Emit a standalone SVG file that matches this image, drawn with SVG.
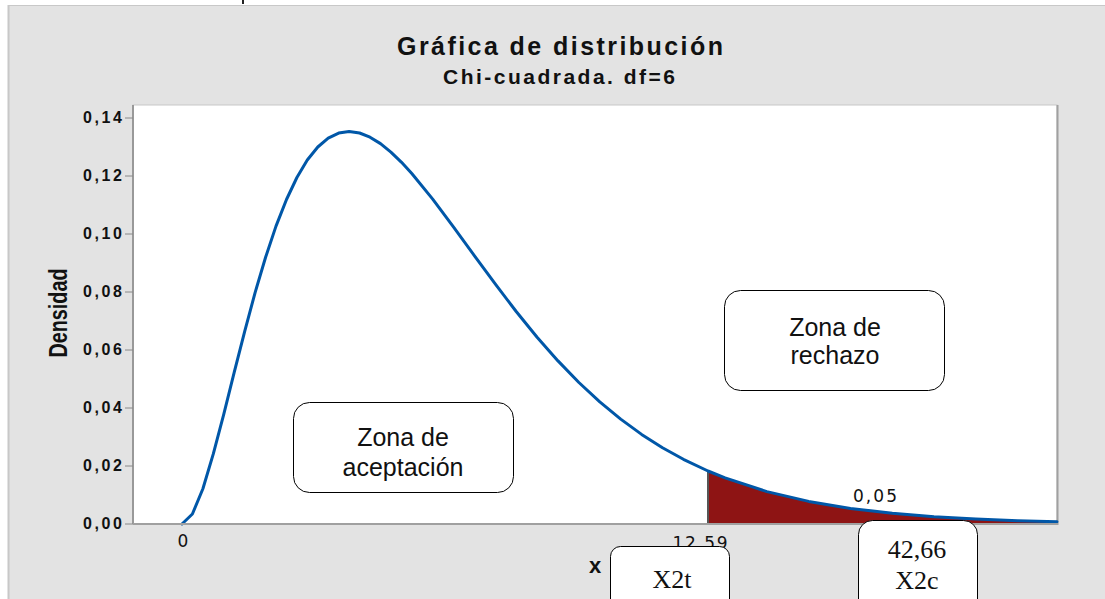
<svg xmlns="http://www.w3.org/2000/svg" width="1105" height="599" viewBox="0 0 1105 599">
<style>
.tick{font-family:"Liberation Sans",Arial,sans-serif;font-weight:bold;font-size:16px;fill:#111}
.num{font-family:"DejaVu Sans",Verdana,sans-serif;font-size:17px;fill:#111}
.box{fill:#fff;stroke:#000;stroke-width:1}
.zt{font-family:"Liberation Sans",Arial,sans-serif;font-size:25px;fill:#111;text-anchor:middle}
.st{font-family:"Liberation Serif","Times New Roman",serif;font-size:26px;fill:#111;text-anchor:middle}
.tk{stroke:#888;stroke-width:1}
</style>
<rect x="0" y="0" width="1105" height="599" fill="#fff"/>
<rect x="242" y="0" width="2" height="4" fill="#222"/>
<g id="panel">
<rect x="8" y="5" width="1097" height="594" fill="#E3E3E3"/>
<line x1="8.5" y1="5" x2="8.5" y2="599" stroke="#C8C8C8" stroke-width="2"/>
<line x1="8" y1="5.5" x2="1105" y2="5.5" stroke="#C8C8C8" stroke-width="1"/>
</g>
<g id="title">
<text x="560" y="55" text-anchor="middle" font-family="Liberation Sans,Arial,sans-serif" font-weight="bold" font-size="25" textLength="326" lengthAdjust="spacing" fill="#111">Gráfica de distribución</text>
<text x="559" y="84" text-anchor="middle" font-family="Liberation Sans,Arial,sans-serif" font-weight="bold" font-size="21" textLength="232" lengthAdjust="spacing" fill="#111">Chi-cuadrada. df=6</text>
</g>
<g id="plot">
<rect x="133" y="105" width="924" height="419" fill="#fff" stroke="#C8C8C8" stroke-width="1"/>
<line x1="133" y1="105" x2="133" y2="524" stroke="#999" stroke-width="2"/>
<line x1="1057.5" y1="105" x2="1057.5" y2="525" stroke="#A0A0A0" stroke-width="2"/>
<path d="M708,524 L708,471 L725.1,477.9 L766.9,491.6 L808.7,501.4 L850.5,508.4 L892.3,513.3 L934,516.8 L975.8,519.1 L1017.6,520.7 L1057,521.8 L1057,524 Z" fill="#8E1414"/>
<line x1="708" y1="471" x2="708" y2="524" stroke="#555" stroke-width="2"/>
<polyline fill="none" stroke="#0057A8" stroke-width="3" stroke-linejoin="round" stroke-linecap="round" points="182,524 192.4,514 202.9,488.7 213.3,453.9 223.8,414.1 234.2,372.4 244.7,331.4 255.1,292.6 265.6,257.3 276,226.1 286.5,199.5 296.9,177.5 307.3,160 317.8,147 328.2,138.2 338.7,133.1 349.1,131.5 359.6,133 370,137.2 380.5,143.6 390.9,152.1 401.3,162.1 411.8,173.5 432.7,199.1 453.6,227.1 474.5,255.8 495.4,284.2 516.2,311.5 537.1,337.2 558,360.9 578.9,382.5 599.8,401.9 620.7,419.1 641.6,434.4 662.5,447.7 683.4,459.3 708,471 725.1,477.9 766.9,491.6 808.7,501.4 850.5,508.4 892.3,513.3 934,516.8 975.8,519.1 1017.6,520.7 1057,521.8"/>
<line x1="133" y1="524" x2="1058" y2="524" stroke="#A0A0A0" stroke-width="2"/>
</g>
<g id="yaxis">
<line class="tk" x1="125" y1="118" x2="133" y2="118"/>
<line class="tk" x1="125" y1="176" x2="133" y2="176"/>
<line class="tk" x1="125" y1="234" x2="133" y2="234"/>
<line class="tk" x1="125" y1="292" x2="133" y2="292"/>
<line class="tk" x1="125" y1="350" x2="133" y2="350"/>
<line class="tk" x1="125" y1="408" x2="133" y2="408"/>
<line class="tk" x1="125" y1="466" x2="133" y2="466"/>
<line class="tk" x1="125" y1="524" x2="133" y2="524"/>
<text class="tick" x="83" y="123" textLength="39" lengthAdjust="spacing">0,14</text>
<text class="tick" x="83" y="181" textLength="39" lengthAdjust="spacing">0,12</text>
<text class="tick" x="83" y="239" textLength="39" lengthAdjust="spacing">0,10</text>
<text class="tick" x="83" y="297" textLength="39" lengthAdjust="spacing">0,08</text>
<text class="tick" x="83" y="355" textLength="39" lengthAdjust="spacing">0,06</text>
<text class="tick" x="83" y="413" textLength="39" lengthAdjust="spacing">0,04</text>
<text class="tick" x="83" y="471" textLength="39" lengthAdjust="spacing">0,02</text>
<text class="tick" x="83" y="529" textLength="39" lengthAdjust="spacing">0,00</text>
<text transform="translate(67,313) rotate(-90)" text-anchor="middle" font-family="Liberation Sans,Arial,sans-serif" font-weight="bold" font-size="26" textLength="89" lengthAdjust="spacingAndGlyphs" fill="#111">Densidad</text>
</g>
<g id="xaxis">
<text class="num" x="183" y="547" text-anchor="middle" font-size="18">0</text>
<text class="num" x="700" y="549" text-anchor="middle" textLength="55" lengthAdjust="spacing">12,59</text>
<text class="num" x="875" y="502" text-anchor="middle" textLength="44" lengthAdjust="spacing">0,05</text>
<text x="595" y="573" text-anchor="middle" font-family="Liberation Sans,Arial,sans-serif" font-weight="bold" font-size="22" fill="#111">x</text>
</g>
<g id="zona-aceptacion">
<rect class="box" x="293.5" y="402.5" width="220" height="90" rx="16"/>
<text class="zt" x="403" y="446">Zona de</text>
<text class="zt" x="403" y="476">aceptación</text>
</g>
<g id="zona-rechazo">
<rect class="box" x="724.5" y="290.5" width="220" height="100" rx="16"/>
<text class="zt" x="835" y="336">Zona de</text>
<text class="zt" x="835" y="364">rechazo</text>
</g>
<g id="x2t">
<rect class="box" x="610.5" y="546.5" width="119" height="70" rx="10"/>
<text class="st" x="672" y="588" font-size="30">X2t</text>
</g>
<g id="x2c">
<rect class="box" x="858.5" y="520.5" width="119" height="100" rx="14"/>
<text class="st" x="917" y="558">42,66</text>
<text class="st" x="917" y="589">X2c</text>
</g>
</svg>
